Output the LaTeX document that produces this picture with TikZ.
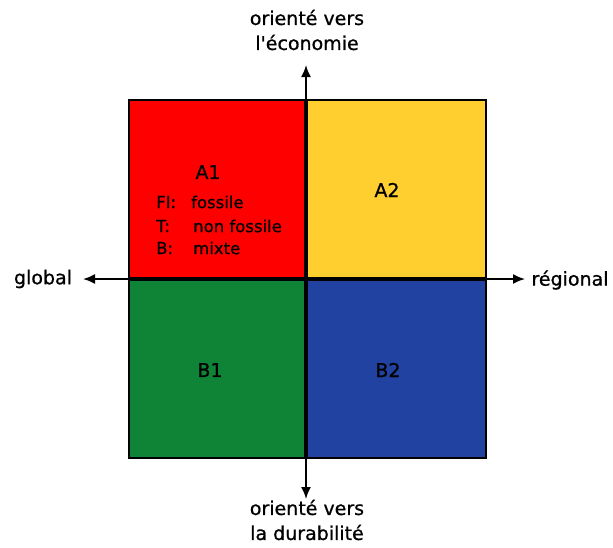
\documentclass[tikz,border=0pt]{standalone}
\usepackage{fontspec}
\setmainfont{DejaVu Sans}[Ligatures=TeXOff]
\newfontfamily\heavyfont{DejaVu Sans}[Ligatures=TeXOff, FakeBold=0.8]
\usetikzlibrary{arrows.meta}
\definecolor{qred}{HTML}{FF0000}
\definecolor{qyellow}{HTML}{FFCF30}
\definecolor{qgreen}{HTML}{0F8336}
\definecolor{qblue}{HTML}{2142A0}
\begin{document}
\begin{tikzpicture}[x=1pt,y=-1pt,
  quad/.style={rectangle, draw=black, line width=1.6pt, inner sep=0pt, minimum height=178pt},
  qlab/.style={font=\heavyfont\fontsize{19}{22}\selectfont, inner sep=0pt},
  listlab/.style={font=\heavyfont\fontsize{16.5}{20}\selectfont, inner sep=0pt, anchor=west},
  axlab/.style={font=\heavyfont\fontsize{19}{25}\selectfont, align=center, inner sep=0pt},
  axis/.style={line width=1.8pt, -{Latex[length=12pt,width=10pt]}}]
\useasboundingbox (0,0) rectangle (613,547);
\fill[white] (0,0) rectangle (613,547);
% quadrants
\node[quad, fill=qred,    minimum width=176pt, anchor=south east] (qA1) at (306,279) {};
\node[quad, fill=qyellow, minimum width=179pt, anchor=south west] (qA2) at (306,279) {};
\node[quad, fill=qgreen,  minimum width=176pt, anchor=north east] (qB1) at (306,279) {};
\node[quad, fill=qblue,   minimum width=179pt, anchor=north west] (qB2) at (306,279) {};
% quadrant texts
\node[qlab] (tA1) at (208,172) {A1};
\node[qlab] (tA2) at (387,190) {A2};
\node[qlab] (tB1) at (210,370) {B1};
\node[qlab] (tB2) at (388,370) {B2};
\node[listlab] (kFI) at (156,202) {FI:};
\node[listlab] (vFI) at (191,202) {fossile};
\node[listlab] (kT) at (156,226) {T:};
\node[listlab] (vT) at (193,226) {non fossile};
\node[listlab] (kB) at (156,248) {B:};
\node[listlab] (vB) at (193,248) {mixte};
% axes
\coordinate (c) at (306,279);
\coordinate (up) at (306,65);
\coordinate (down) at (306,499);
\coordinate (lft) at (83,279);
\coordinate (rgt) at (525,279);
\draw[axis] (c) -- (up);
\draw[axis] (c) -- (down);
\draw[axis] (c) -- (lft);
\draw[axis] (c) -- (rgt);
% axis labels
\node[axlab] (eco) at (307,30) {orienté vers\\l'économie};
\node[axlab] (dur) at (307,520) {orienté vers\\la durabilité};
\node[axlab] (glob) at (43,279) {global};
\node[axlab] (reg) at (570,280) {régional};
\end{tikzpicture}
\end{document}
